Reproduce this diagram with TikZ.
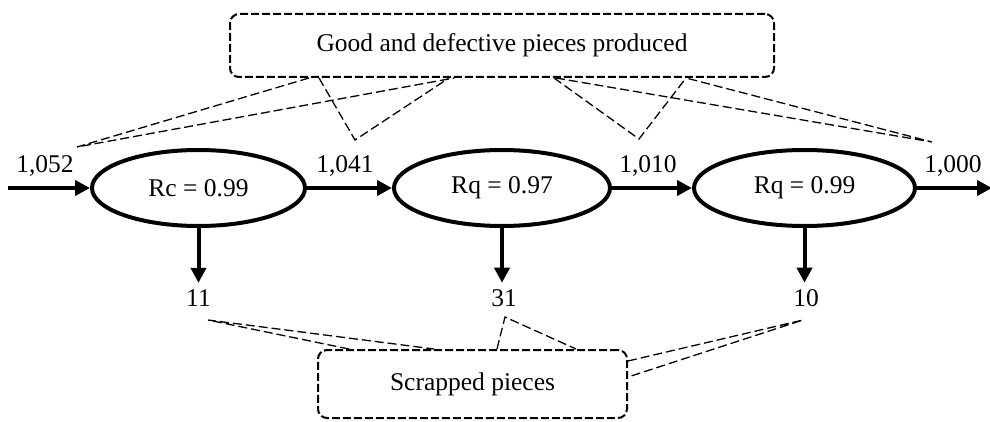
\documentclass[tikz,border=0pt]{standalone}
\usepackage{fontspec}
\setmainfont{Liberation Serif}
\usetikzlibrary{arrows.meta,shapes.geometric}
\begin{document}
\begin{tikzpicture}[x=1pt,y=-1pt,
  txt/.style={font=\fontsize{25.5}{30}\selectfont},
  proc/.style={ellipse,draw,line width=4pt,inner sep=0pt,minimum height=76pt,txt},
  flow/.style={line width=4pt,-{Triangle[length=15pt,width=15pt]}},
  num/.style={inner sep=0pt,txt},
  callbox/.style={draw,dash pattern=on 8pt off 3pt,line width=2pt,rounded corners=9pt,inner sep=0pt,txt},
  tail/.style={line width=1.3pt,dash pattern=on 9pt off 4pt}]
\useasboundingbox[fill=white] (0,0) rectangle (990,422);

% process ellipses
\node[proc,minimum width=213pt] (e1) at (198.5,188) {Rc = 0.99};
\node[proc,minimum width=216pt] (e2) at (502,188) {Rq = 0.97};
\node[proc,minimum width=221pt] (e3) at (804.5,188) {Rq = 0.99};

% flow labels
\node[num] (l1) at (45,166) {1,052};
\node[num] (l2) at (345,166) {1,041};
\node[num] (l3) at (648,166) {1,010};
\node[num] (l4) at (953,166) {1,000};

% main flow
\coordinate (in) at (8,188);
\coordinate (out) at (992,188);
\draw[flow] (in) -- (e1.west);
\draw[flow] (e1.east) -- (e2.west);
\draw[flow] (e2.east) -- (e3.west);
\draw[flow] (e3.east) -- (out);

% scrap outputs
\node[num] (s1) at (198.5,298.5) {11};
\node[num] (s2) at (504,298.5) {31};
\node[num] (s3) at (806,298.5) {10};
\draw[flow,shorten >=7pt] (e1.south) -- (e1.south |- s1.north);
\draw[flow,shorten >=7pt] (e2.south) -- (e2.south |- s2.north);
\draw[flow,shorten >=7pt] (e3.south) -- (e3.south |- s3.north);

% callout boxes
\node[callbox,minimum width=544pt,minimum height=63pt] (top) at (502,45.5) {Good and defective pieces produced};
\node[callbox,minimum width=309pt,minimum height=68pt] (bot) at (472.5,384) {Scrapped pieces};

% callout tails (top)
\coordinate (t1) at (77,147);
\coordinate (t2) at (355,140);
\coordinate (t3) at (639,139);
\coordinate (t4) at (932,142);
\draw[tail] ([xshift=80pt]top.south west) -- (t1) -- ([xshift=225pt]top.south west);
\draw[tail] ([xshift=90pt]top.south west) -- (t2) -- ([xshift=220pt]top.south west);
\draw[tail] ([xshift=325pt]top.south west) -- (t3) -- ([xshift=457pt]top.south west);
\draw[tail] ([xshift=327pt]top.south west) -- (t4) -- ([xshift=457pt]top.south west);

% callout tails (bottom)
\coordinate (b1) at (208,320);
\coordinate (b2) at (505,317);
\coordinate (b3) at (803,320);
\draw[tail] ([xshift=32pt]bot.north west) -- (b1) -- ([xshift=117pt]bot.north west);
\draw[tail] ([xshift=180pt]bot.north west) -- (b2) -- ([xshift=259pt]bot.north west);
\draw[tail] ([yshift=-12pt]bot.north east) -- (b3) -- ([yshift=-28pt]bot.north east);
\end{tikzpicture}
\end{document}
